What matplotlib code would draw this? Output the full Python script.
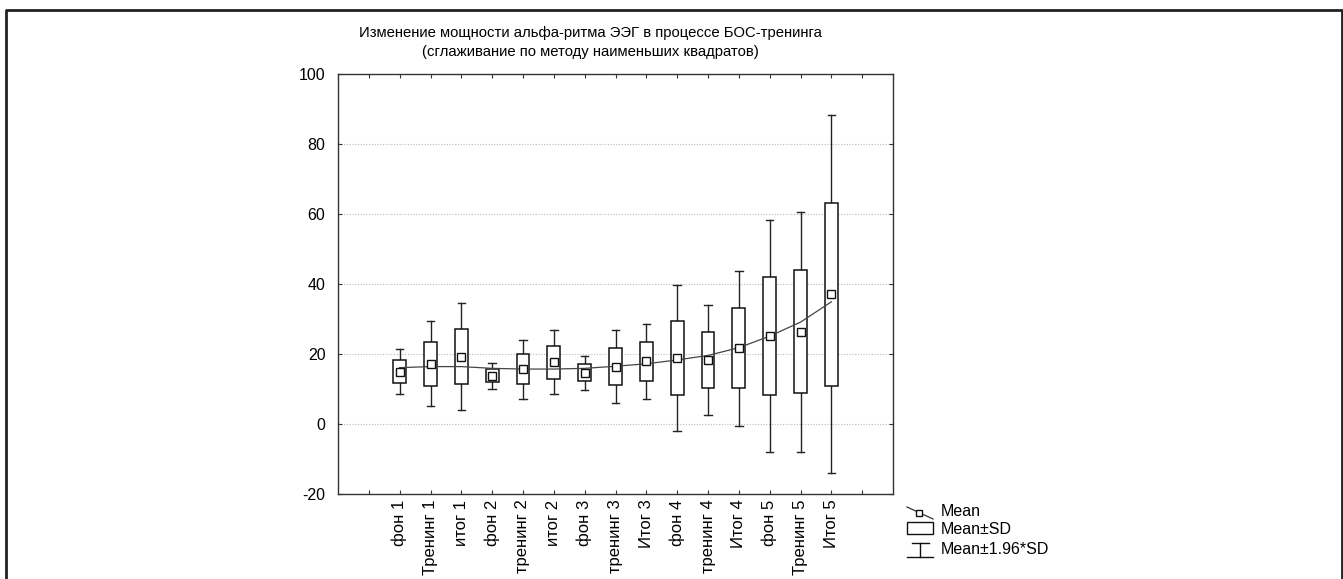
import matplotlib as mpl
import matplotlib.pyplot as plt
import numpy as np
from matplotlib.patches import Rectangle

mpl.rcParams['font.family'] = ['Liberation Sans', 'DejaVu Sans']
mpl.rcParams['font.size'] = 10

# Data
labels = ['фон 1', 'Тренинг 1', 'итог 1', 'фон 2', 'тренинг 2', 'итог 2', 'фон 3',
          'тренинг 3', 'Итог 3', 'фон 4', 'тренинг 4', 'Итог 4', 'фон 5',
          'Тренинг 5', 'Итог 5']
means = [15.0, 17.2, 19.2, 13.8, 15.6, 17.7, 14.6, 16.4, 17.9, 18.8, 18.2, 21.7,
         25.2, 26.4, 37.1]
sds = [3.3, 6.2, 7.8, 1.9, 4.3, 4.7, 2.45, 5.3, 5.5, 10.6, 8.0, 11.3, 16.9,
       17.5, 26.1]
# least-squares smoothed curve, read at each category
smooth = [16.1, 16.4, 16.4, 15.9, 15.7, 15.7, 15.9, 16.5, 17.2, 18.3, 19.6,
          21.8, 25.1, 29.1, 34.9]
yticks = [-20, 0, 20, 40, 60, 80, 100]

W, H = 1343, 579
fig = plt.figure(figsize=(W / 100, H / 100), dpi=100)

ax = fig.add_axes([338 / W, 1 - 494 / H, (893 - 338) / W, (494 - 74) / H])
pos = np.arange(1, len(labels) + 1)
m = np.asarray(means)
s = np.asarray(sds)

# whiskers: mean +- 1.96*SD
cap = 0.12
for x, lo, hi in zip(pos, m - 1.96 * s, m + 1.96 * s):
    ax.plot([x, x], [lo, hi], color='#222222', lw=1, zorder=2)
    ax.plot([x - cap, x + cap], [lo, lo], color='#222222', lw=1, zorder=2)
    ax.plot([x - cap, x + cap], [hi, hi], color='#222222', lw=1, zorder=2)

# boxes: mean +- SD
bw = 0.42
for x, lo, hi in zip(pos, m - s, m + s):
    ax.add_patch(Rectangle((x - bw / 2, lo), bw, hi - lo, facecolor='white',
                           edgecolor='#111111', lw=1.1, zorder=3))

ax.plot(pos, smooth, color='#444444', lw=0.9, zorder=4)
ax.plot(pos, means, linestyle='none', marker='s', markersize=5.5,
        markerfacecolor='white', markeredgecolor='#111111', markeredgewidth=1,
        zorder=5)

ax.set_xlim(-1, 17)
ax.set_ylim(-20, 100)
ax.set_xticks(np.arange(0, 17))
ax.set_xticklabels([''] + labels + [''], rotation=90, fontsize=12)
ax.set_yticks(yticks)
ax.set_yticklabels([str(v) for v in yticks], fontsize=11.5)
ax.tick_params(direction='in', length=3, top=True, right=True, width=0.8,
               color='#333333')
ax.tick_params(axis='y', pad=9)
ax.tick_params(axis='x', pad=4)
for sp in ax.spines.values():
    sp.set_linewidth(1)
    sp.set_color('#333333')
for v in [0, 20, 40, 60, 80]:
    ax.axhline(v, color='#bbbbbb', lw=0.8, linestyle=(0, (1, 1.5)), zorder=1)

# overlay in pixel coordinates: frame, title, legend
ov = fig.add_axes([0, 0, 1, 1], facecolor='none')
ov.set_xlim(0, W)
ov.set_ylim(H, 0)
ov.axis('off')
ov.plot([6, 6, 1341.5, 1341.5], [H + 5, 9.5, 9.5, H + 5], color='#222222',
        lw=2, clip_on=False)

ov.text(590, 33, 'Изменение мощности альфа-ритма ЭЭГ в процессе БОС-тренинга',
        ha='center', va='center', fontsize=10.7)
ov.text(590, 52, '(сглаживание по методу наименьших квадратов)',
        ha='center', va='center', fontsize=10.7)

# legend
ov.plot([907, 933], [507, 519], color='#333333', lw=0.9)
ov.plot([919], [513], marker='s', markersize=5, markerfacecolor='white',
        markeredgecolor='#111111', markeredgewidth=1)
ov.add_patch(Rectangle((907, 522), 26, 12, facecolor='white',
                       edgecolor='#111111', lw=1))
ov.plot([912, 929], [543, 543], color='#111111', lw=1)
ov.plot([920, 920], [543, 557], color='#111111', lw=1)
ov.plot([907, 933], [557, 557], color='#111111', lw=1)
ov.text(941, 512, 'Mean', ha='left', va='center', fontsize=11.5)
ov.text(941, 530, 'Mean±SD', ha='left', va='center', fontsize=11.5)
ov.text(941, 549, 'Mean±1.96*SD', ha='left', va='center', fontsize=11.5)

fig.savefig('out.png', dpi=100, facecolor='white')
